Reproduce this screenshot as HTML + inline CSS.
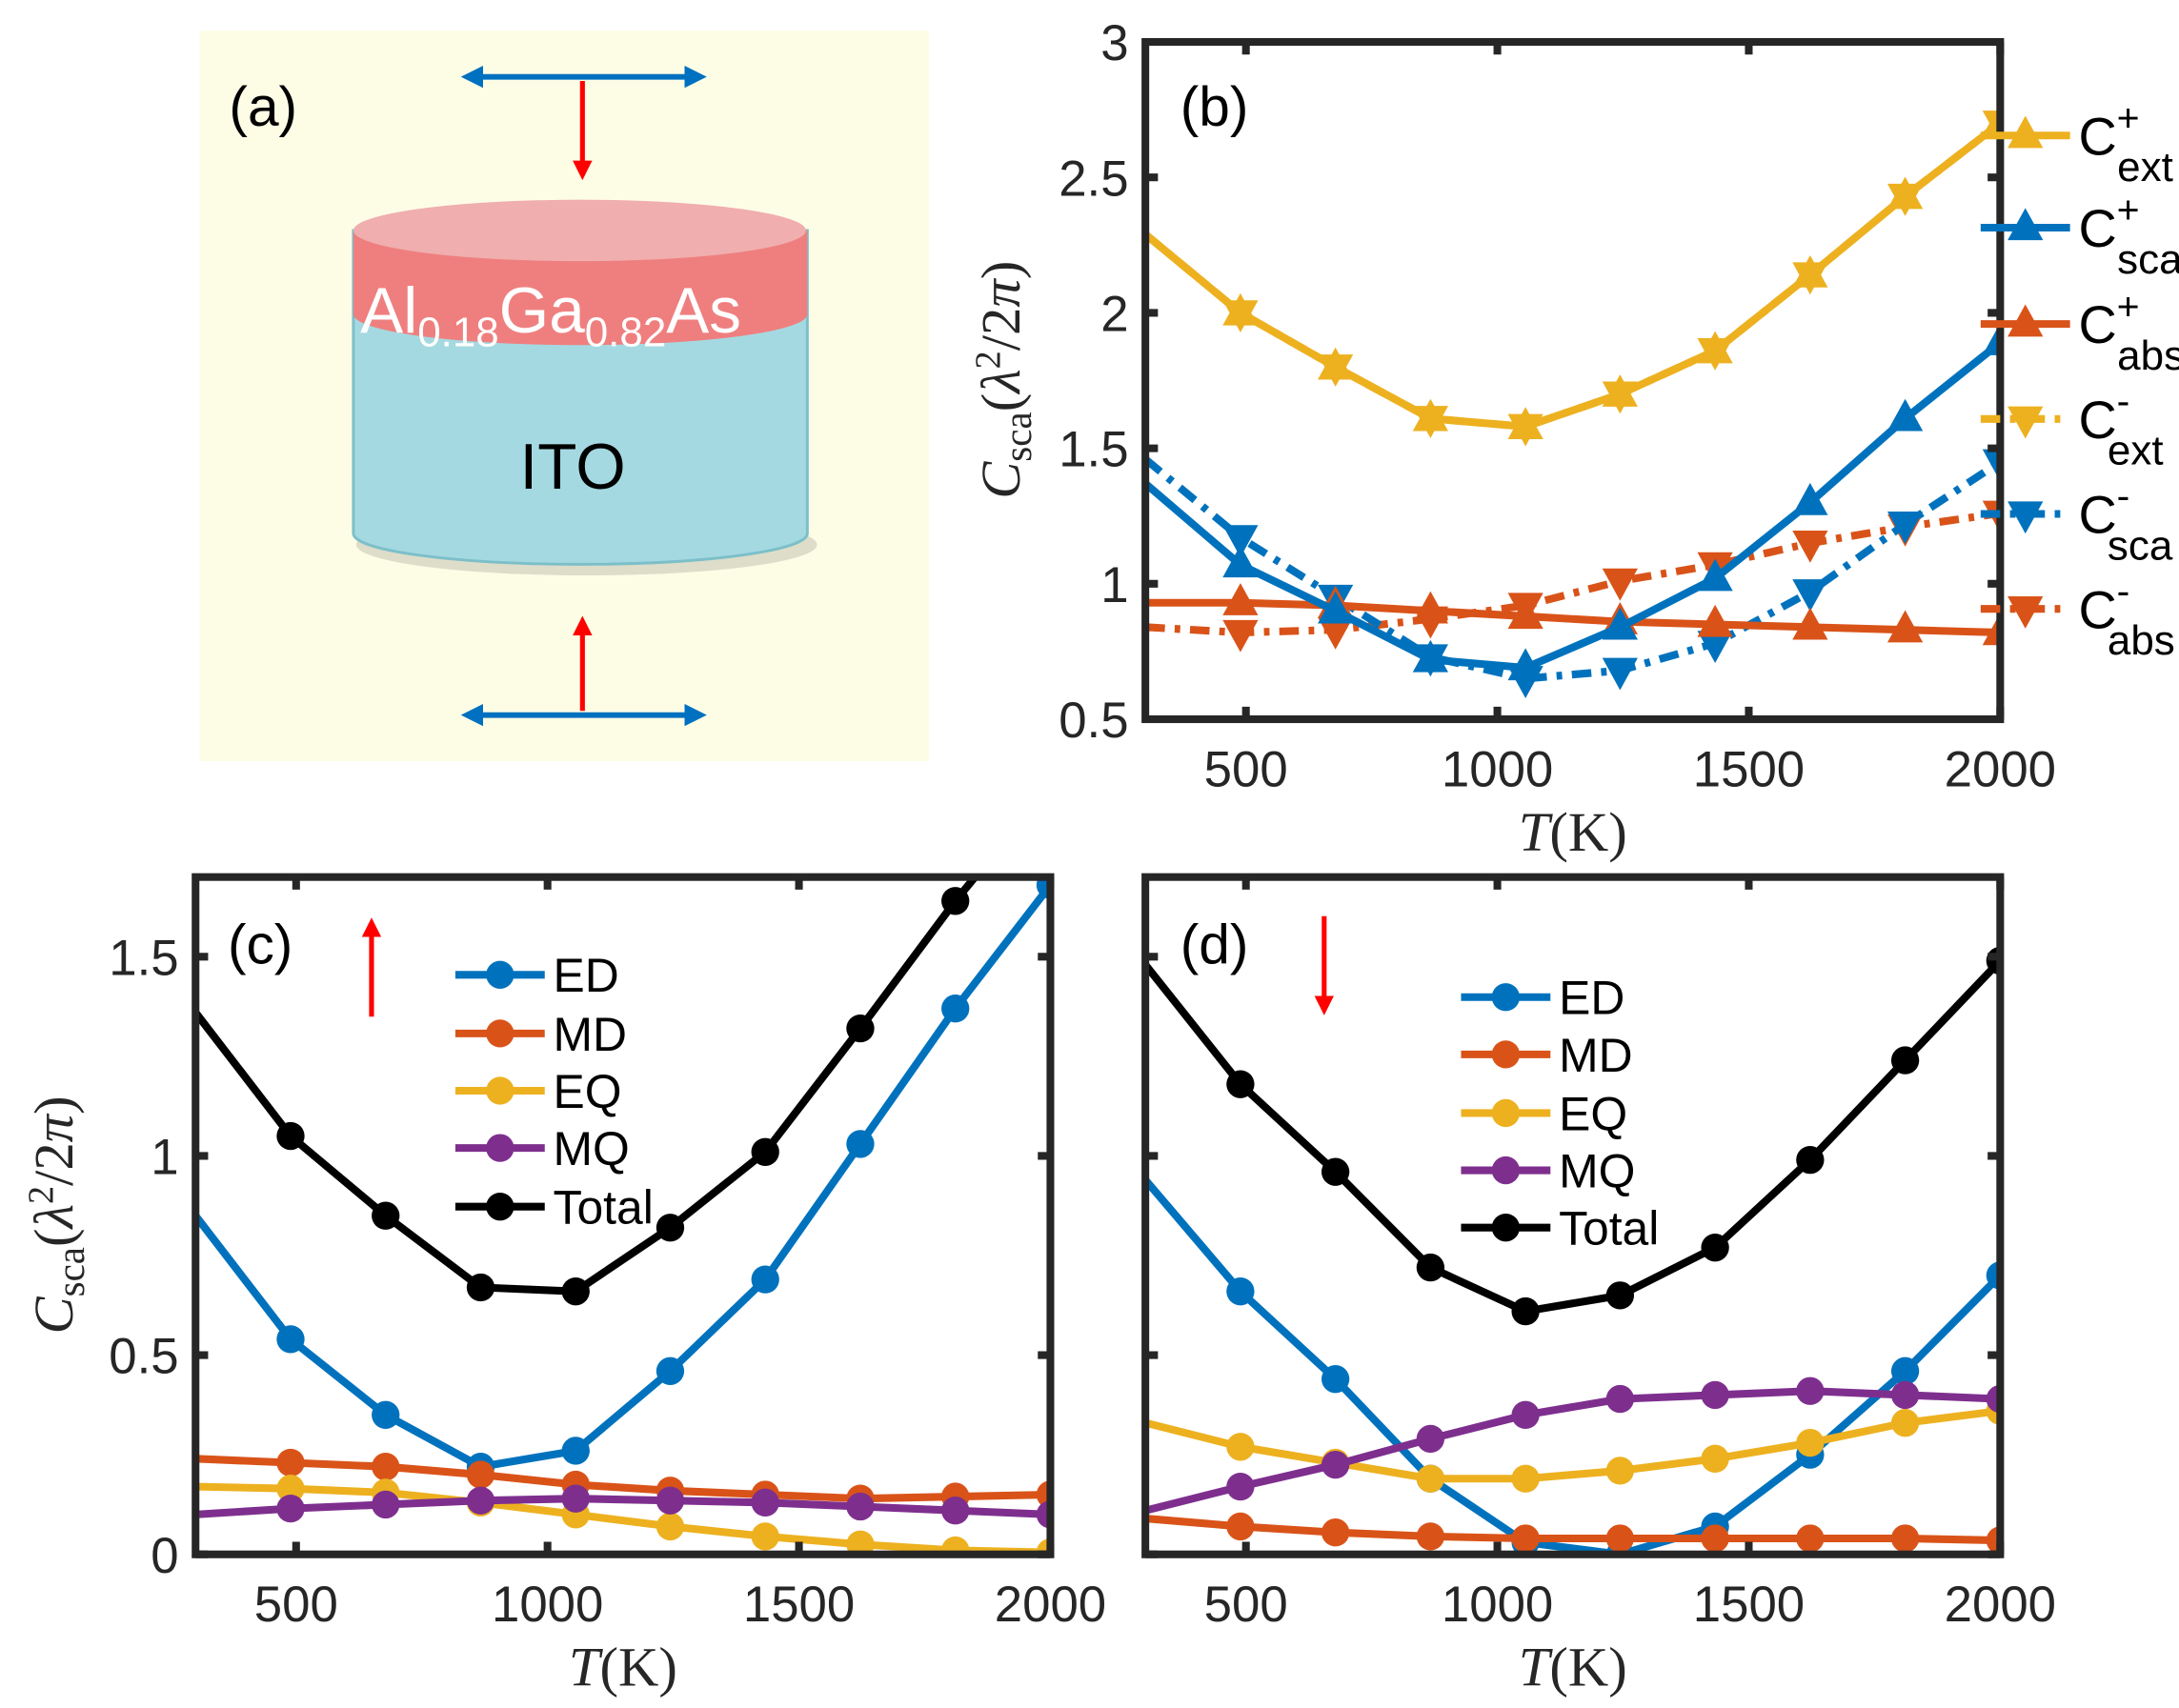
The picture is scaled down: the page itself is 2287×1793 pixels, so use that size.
<!DOCTYPE html>
<html><head><meta charset="utf-8">
<style>
html,body{margin:0;padding:0;background:#fff;}
svg{display:block;font-family:"Liberation Sans",Arial,sans-serif;}
.tick{font-size:36px;fill:#262626;}
.serif{font-family:"Liberation Serif","DejaVu Serif",serif;}
</style></head>
<body>
<svg id="fig" width="2287" height="1793" viewBox="0 0 1560 1223" xmlns="http://www.w3.org/2000/svg">
<defs>
<clipPath id="clipB"><rect x="820" y="30" width="612" height="485"/></clipPath>
<clipPath id="clipC"><rect x="140" y="628" width="612" height="485"/></clipPath>
<clipPath id="clipD"><rect x="820" y="628" width="612" height="485"/></clipPath>
<marker id="redHead" markerWidth="4" markerHeight="4" refX="2" refY="2" orient="auto-start-reverse"><path d="M0,0 L4,2 L0,4 z" fill="#ff0000"/></marker>
<marker id="blueHead" markerWidth="4" markerHeight="4" refX="2" refY="2" orient="auto-start-reverse"><path d="M0,0 L4,2 L0,4 z" fill="#0070c0"/></marker>
</defs>

<!-- Panel (a) schematic -->
<g>
<rect x="143" y="22" width="522" height="523" fill="#fdfde6"/>
<text x="164" y="90" font-size="40">(a)</text>
<ellipse cx="420" cy="390" rx="165" ry="22" fill="#c8c8b8" opacity="0.6"/>
<path d="M253,165 L253,382 A162,22 0 0 0 578,382 L578,165 z" fill="#a5d9e1" stroke="#7cbfc9" stroke-width="2"/>
<path d="M253,165 L253,225 A162,22 0 0 0 578,225 L578,165 z" fill="#ef7f7f"/>
<ellipse cx="415" cy="165" rx="162" ry="22" fill="#f0aeae"/>
<text x="258" y="238" font-size="46" fill="#fff">Al<tspan font-size="30" dy="10">0.18</tspan><tspan dy="-10">Ga</tspan><tspan font-size="30" dy="10">0.82</tspan><tspan dy="-10">As</tspan></text>
<text x="410" y="350" font-size="46" text-anchor="middle">ITO</text>
<line x1="338" y1="55" x2="498" y2="55" stroke="#0070c0" stroke-width="4" marker-start="url(#blueHead)" marker-end="url(#blueHead)"/>
<line x1="417" y1="58" x2="417" y2="122" stroke="#ff0000" stroke-width="3.5" marker-end="url(#redHead)"/>
<line x1="338" y1="512" x2="498" y2="512" stroke="#0070c0" stroke-width="4" marker-start="url(#blueHead)" marker-end="url(#blueHead)"/>
<line x1="417" y1="509" x2="417" y2="448" stroke="#ff0000" stroke-width="3.5" marker-end="url(#redHead)"/>
</g>

<g id="chartB"></g>
<g id="chartC"></g>
<g id="chartD"></g>
</svg>

<script>
// ---- shared x data ----
const temps = [300, 489, 678, 867, 1056, 1244, 1433, 1622, 1811, 2000];
const xTicks = [500, 1000, 1500, 2000];

// ---- panel b data ----
const extPlus  = [2.29, 2.00, 1.80, 1.61, 1.58, 1.70, 1.86, 2.14, 2.43, 2.70];
const extMinus = [2.29, 2.00, 1.80, 1.61, 1.58, 1.70, 1.86, 2.14, 2.43, 2.70];
const scaPlus  = [1.37, 1.07, 0.90, 0.72, 0.69, 0.84, 1.02, 1.30, 1.61, 1.89];
const scaMinus = [1.46, 1.17, 0.95, 0.73, 0.65, 0.68, 0.78, 0.97, 1.22, 1.45];
const absPlus  = [0.93, 0.93, 0.92, 0.90, 0.88, 0.86, 0.85, 0.84, 0.83, 0.82];
const absMinus = [0.84, 0.82, 0.83, 0.87, 0.92, 1.01, 1.07, 1.15, 1.21, 1.26];
const bYTicks = [0.5, 1, 1.5, 2, 2.5, 3];
const bYTickLabels = ["0.5", "1", "1.5", "2", "2.5", "3"];

// ---- panel c data ----
const cED    = [0.85, 0.54, 0.35, 0.22, 0.26, 0.46, 0.69, 1.03, 1.37, 1.68];
const cMD    = [0.24, 0.23, 0.22, 0.20, 0.175, 0.16, 0.15, 0.14, 0.145, 0.15];
const cEQ    = [0.17, 0.165, 0.155, 0.13, 0.10, 0.07, 0.045, 0.025, 0.01, 0.005];
const cMQ    = [0.10, 0.115, 0.125, 0.135, 0.14, 0.135, 0.13, 0.12, 0.11, 0.10];
const cTotal = [1.36, 1.05, 0.85, 0.67, 0.66, 0.82, 1.01, 1.32, 1.64, 1.93];
const cYTicks = [0, 0.5, 1, 1.5];
const cYTickLabels = ["0", "0.5", "1", "1.5"];

// ---- panel d data ----
const dED    = [0.94, 0.66, 0.44, 0.19, 0.03, 0.00, 0.07, 0.25, 0.46, 0.70];
const dMD    = [0.09, 0.07, 0.055, 0.045, 0.04, 0.04, 0.04, 0.04, 0.04, 0.035];
const dEQ    = [0.33, 0.27, 0.23, 0.19, 0.19, 0.21, 0.24, 0.28, 0.33, 0.36];
const dMQ    = [0.11, 0.17, 0.225, 0.29, 0.35, 0.39, 0.40, 0.41, 0.40, 0.39];
const dTotal = [1.48, 1.18, 0.96, 0.72, 0.61, 0.65, 0.77, 0.99, 1.24, 1.49];

const NS = "http://www.w3.org/2000/svg";
const BLUE = "#0072BD", ORANGE = "#D95319", YELLOW = "#EDB120", PURPLE = "#7E2F8E", BLACK = "#000000";

function el(tag, attrs, parent) {
  const e = document.createElementNS(NS, tag);
  for (const k in attrs) e.setAttribute(k, attrs[k]);
  if (parent) parent.appendChild(e);
  return e;
}

function makeAxes(left, top, w, h, xmin, xmax, ymin, ymax) {
  return {
    left, top, w, h,
    x: v => left + (v - xmin) / (xmax - xmin) * w,
    y: v => top + h - (v - ymin) / (ymax - ymin) * h
  };
}

function drawFrame(g, ax, yTicks, yLabels, showYLabels) {
  const frame = el("rect", {x: ax.left, y: ax.top, width: ax.w, height: ax.h, fill: "none", stroke: "#262626", "stroke-width": 5.5}, g);
  
  
  xTicks.forEach(t => {
    const x = ax.x(t);
    const tk = el("path", {d: `M${x},${ax.top + ax.h} v-9 M${x},${ax.top} v9`, stroke: "#262626", "stroke-width": 5.5}, g);
    
    
    const lb = el("text", {x: x, y: ax.top + ax.h + 48, "text-anchor": "middle", class: "tick"}, g);
    lb.textContent = t;
    
    
  });
  yTicks.forEach((t, i) => {
    const y = ax.y(t);
    const tk = el("path", {d: `M${ax.left},${y} h9 M${ax.left + ax.w},${y} h-9`, stroke: "#262626", "stroke-width": 5.5}, g);
    
    
    if (showYLabels) {
      const lb = el("text", {x: ax.left - 12, y: y + 13, "text-anchor": "end", class: "tick"}, g);
      lb.textContent = yLabels[i];
      
      
    }
  });
  const xt = el("text", {x: ax.left + ax.w / 2, y: ax.top + ax.h + 94, "text-anchor": "middle", "font-size": 40, class: "serif", fill: "#262626"}, g);
  xt.innerHTML = '<tspan font-style="italic">T</tspan>(K)';
  
  
}

function yTitle(g, x, y) {
  const t = el("text", {x: 0, y: 0, transform: `translate(${x},${y}) rotate(-90)`, "text-anchor": "middle", "font-size": 40, class: "serif", fill: "#262626"}, g);
  t.innerHTML = '<tspan font-style="italic">C</tspan><tspan font-size="28" dy="8">sca</tspan><tspan dy="-8">(</tspan><tspan font-style="italic">λ</tspan><tspan font-size="26" dy="-14">2</tspan><tspan dy="14">/2</tspan><tspan font-style="italic">π</tspan>)';
  
  
}

function marker(g, type, cx, cy, color) {
  let m;
  if (type === "circle") {
    m = el("circle", {cx, cy, r: 10, fill: color}, g);
  } else if (type === "up") {
    m = el("path", {d: `M${cx},${cy - 12} L${cx + 11},${cy + 8} L${cx - 11},${cy + 8} z`, fill: color, stroke: color, "stroke-width": 2}, g);
  } else {
    m = el("path", {d: `M${cx},${cy + 12} L${cx + 11},${cy - 8} L${cx - 11},${cy - 8} z`, fill: color, stroke: color, "stroke-width": 2}, g);
  }
  return m;
}

function series(g, ax, vals, color, mtype, dash, name, clip) {
  const sg = el("g", {"clip-path": `url(#${clip})`}, g);
  
  
  const pts = vals.map((v, i) => `${ax.x(temps[i])},${ax.y(v)}`).join(" ");
  const attrs = {points: pts, fill: "none", stroke: color, "stroke-width": 5.5, "stroke-linejoin": "round"};
  if (dash) attrs["stroke-dasharray"] = dash;
  const ln = el("polyline", attrs, sg);
  
  
  vals.forEach((v, i) => {
    if (i === 0) return;
    const m = marker(sg, mtype, ax.x(temps[i]), ax.y(v), color);
    
    
  });
}

function legendEntry(g, x, y, color, mtype, dash, html, fs) {
  const lg = el("g", {}, g);
  
  
  const a = {x1: x, y1: y, x2: x + 64, y2: y, stroke: color, "stroke-width": 5.5};
  if (dash) a["stroke-dasharray"] = dash;
  el("line", a, lg);
  marker(lg, mtype, x + 32, y, color);
  const t = el("text", {x: x + 70, y: y + fs * 0.36, "font-size": fs, fill: "#000"}, lg);
  t.innerHTML = html;
}

// ---------- Panel B ----------
(function () {
  const g = document.getElementById("chartB");
  const ax = makeAxes(820, 30, 612, 485, 300, 2000, 0.5, 3);
  const DD = "14 7 4 7";
  series(g, ax, absMinus, ORANGE, "down", DD, "series-abs-minus", "clipB");
  series(g, ax, scaMinus, BLUE, "down", DD, "series-sca-minus", "clipB");
  series(g, ax, extMinus, YELLOW, "down", DD, "series-ext-minus", "clipB");
  series(g, ax, absPlus, ORANGE, "up", null, "series-abs-plus", "clipB");
  series(g, ax, scaPlus, BLUE, "up", null, "series-sca-plus", "clipB");
  series(g, ax, extPlus, YELLOW, "up", null, "series-ext-plus", "clipB");
  drawFrame(g, ax, bYTicks, bYTickLabels, true);
  yTitle(g, 730, 272);
  const pl = el("text", {x: 845, y: 90, "font-size": 40}, g);
  pl.textContent = "(b)";
  
  
  const entries = [
    [YELLOW, "up", null, "+", "ext", 97],
    [BLUE, "up", null, "+", "sca", 163],
    [ORANGE, "up", null, "+", "abs", 232],
    [YELLOW, "down", DD, "-", "ext", 300],
    [BLUE, "down", DD, "-", "sca", 368],
    [ORANGE, "down", DD, "-", "abs", 436]
  ];
  const lgG = el("g", {}, g);
  
  
  entries.forEach(e => {
    legendEntry(lgG, 1418, e[5], e[0], e[1], e[2],
      `C<tspan font-size="28" dy="-17">${e[3]}</tspan><tspan font-size="30" dx="-16" dy="36">${e[4]}</tspan>`, 38);
  });
})();

// ---------- Panel C ----------
(function () {
  const g = document.getElementById("chartC");
  const ax = makeAxes(140, 628, 612, 485, 300, 2000, 0, 1.7);
  series(g, ax, cTotal, BLACK, "circle", null, "series-total", "clipC");
  series(g, ax, cED, BLUE, "circle", null, "series-ed", "clipC");
  series(g, ax, cMD, ORANGE, "circle", null, "series-md", "clipC");
  series(g, ax, cEQ, YELLOW, "circle", null, "series-eq", "clipC");
  series(g, ax, cMQ, PURPLE, "circle", null, "series-mq", "clipC");
  drawFrame(g, ax, cYTicks, cYTickLabels, true);
  yTitle(g, 52, 870);
  const pl = el("text", {x: 163, y: 690, "font-size": 40}, g);
  pl.textContent = "(c)";
  
  
  const ar = el("line", {x1: 266, y1: 728, x2: 266, y2: 664, stroke: "#ff0000", "stroke-width": 3.5, "marker-end": "url(#redHead)"}, g);
  
  
  const lgG = el("g", {}, g);
  
  
  [["ED", BLUE, 698], ["MD", ORANGE, 740], ["EQ", YELLOW, 781], ["MQ", PURPLE, 822], ["Total", BLACK, 864]]
    .forEach(e => legendEntry(lgG, 326, e[2], e[1], "circle", null, e[0], 34));
})();

// ---------- Panel D ----------
(function () {
  const g = document.getElementById("chartD");
  const ax = makeAxes(820, 628, 612, 485, 300, 2000, 0, 1.7);
  series(g, ax, dTotal, BLACK, "circle", null, "series-total", "clipD");
  series(g, ax, dED, BLUE, "circle", null, "series-ed", "clipD");
  series(g, ax, dEQ, YELLOW, "circle", null, "series-eq", "clipD");
  series(g, ax, dMQ, PURPLE, "circle", null, "series-mq", "clipD");
  series(g, ax, dMD, ORANGE, "circle", null, "series-md", "clipD");
  drawFrame(g, ax, cYTicks, cYTickLabels, false);
  const pl = el("text", {x: 845, y: 690, "font-size": 40}, g);
  pl.textContent = "(d)";
  
  
  const ar = el("line", {x1: 948, y1: 656, x2: 948, y2: 720, stroke: "#ff0000", "stroke-width": 3.5, "marker-end": "url(#redHead)"}, g);
  
  
  const lgG = el("g", {}, g);
  
  
  [["ED", BLUE, 714], ["MD", ORANGE, 755], ["EQ", YELLOW, 797], ["MQ", PURPLE, 838], ["Total", BLACK, 879]]
    .forEach(e => legendEntry(lgG, 1046, e[2], e[1], "circle", null, e[0], 34));
})();
</script>
</body></html>
